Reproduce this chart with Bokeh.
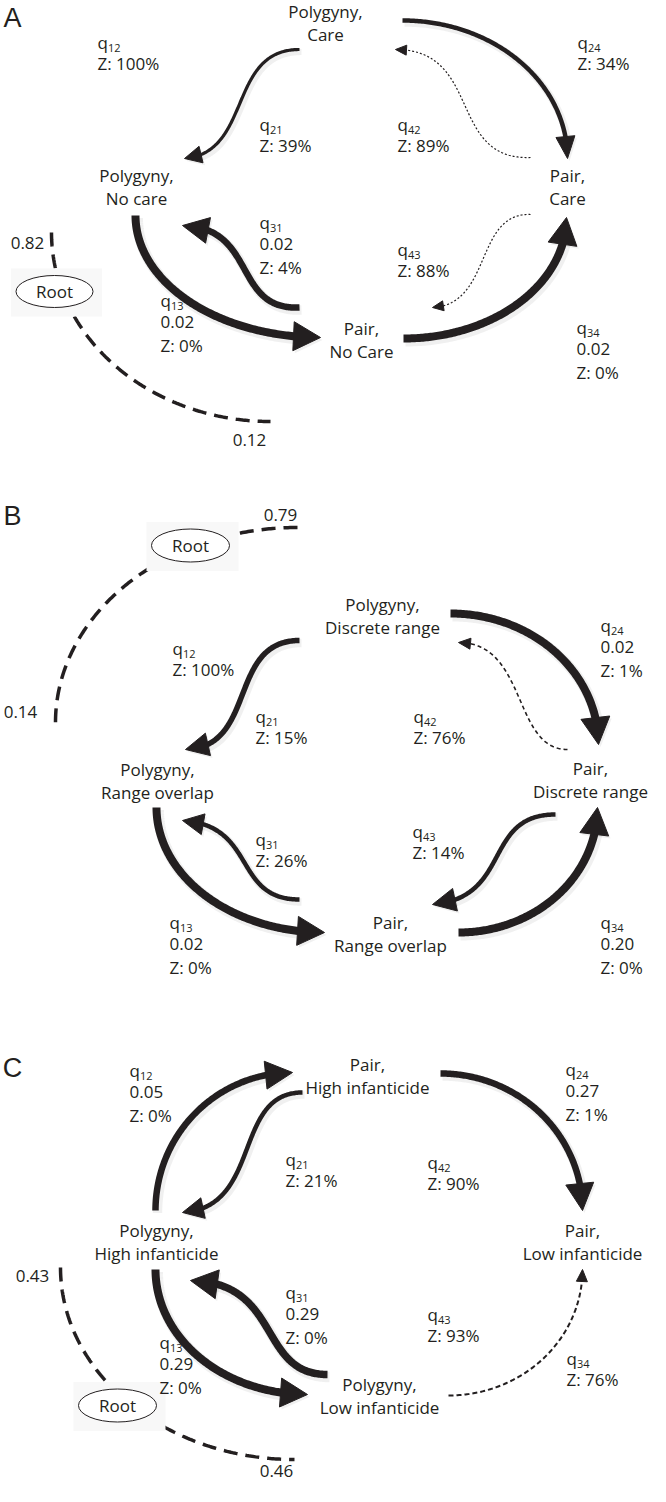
import numpy as np
from bokeh.plotting import figure
from bokeh.models import Range1d
from bokeh.embed import file_html
from bokeh.resources import INLINE
from bokeh.core.properties import value

# ---------------- data ----------------
panel_letters = ["A", "B", "C"]

A_states = [["Polygyny,", "Care"], ["Polygyny,", "No care"], ["Pair,", "Care"], ["Pair,", "No Care"]]
B_states = [["Polygyny,", "Discrete range"], ["Polygyny,", "Range overlap"],
            ["Pair,", "Discrete range"], ["Pair,", "Range overlap"]]
C_states = [["Pair,", "High infanticide"], ["Polygyny,", "High infanticide"],
            ["Pair,", "Low infanticide"], ["Polygyny,", "Low infanticide"]]

A_rate_ids = ["12", "21", "42", "24", "31", "43", "13", "34"]
A_rate_vals = ["", "", "", "", "0.02", "", "0.02", "0.02"]
A_z = ["100%", "39%", "89%", "34%", "4%", "88%", "0%", "0%"]
A_root = ["0.82", "0.12"]

B_rate_ids = ["12", "21", "24", "42", "31", "43", "13", "34"]
B_rate_vals = ["", "", "0.02", "", "", "", "0.02", "0.20"]
B_z = ["100%", "15%", "1%", "76%", "26%", "14%", "0%", "0%"]
B_root = ["0.79", "0.14"]

C_rate_ids = ["12", "21", "24", "42", "31", "43", "13", "34"]
C_rate_vals = ["0.05", "", "0.27", "", "0.29", "", "0.29", ""]
C_z = ["0%", "21%", "1%", "90%", "0%", "93%", "0%", "76%"]
C_root = ["0.43", "0.46"]

# ---------------- layout (pixel-like coordinates) ----------------
INK = "#231f20"
FONT = value("Open Sans")

layout = {
    "A": dict(
        letter=(20, 25),
        nodes=[(333, 19), (144, 183), (575, 183), (369, 336)],
        labels=[(105, 50), (267, 132), (405, 132), (585, 50), (267, 230), (405, 257), (168, 308), (584, 335)],
        arrows=[
            (("bez", (307, 57), (235, 57), (260, 160), (192, 166)), 3.2, 17, 17, None),
            (("arc", 410, 166, 165, 138, -90, 0), 4.5, 22, 19, None),
            (("bez", (538, 165), (455, 168), (490, 57), (403, 57)), 1.2, 11, 10, "2 2"),
            (("bez", (538, 222), (482, 220), (500, 312), (440, 315)), 1.2, 11, 10, "2 2"),
            (("bez", (307, 315), (240, 318), (265, 235), (190, 233)), 6.5, 26, 26, None),
            (("arc", 328, 223, 185, 122, 180, 90), 8, 27, 29, None),
            (("arc", 411, 225, 163, 121, 90, 0), 8, 27, 29, None),
        ],
        root=dict(arc=(278, 240, 219, 189, 180, 90), center=(62, 299), size=(77, 32),
                  tpos=[(35, 250), (257, 447)]),
    ),
    "B": dict(
        letter=(20, 523),
        nodes=[(390, 612), (165, 777), (598, 776), (398, 930)],
        labels=[(180, 656), (263, 724), (608, 633), (421, 724), (263, 847), (420, 839), (177, 930), (608, 930)],
        arrows=[
            (("arc", 458, 752, 148, 131, -90, 0), 8, 27, 29, None),
            (("bez", (575, 757), (520, 757), (535, 650), (466, 650)), 1.6, 12, 11, "4 3"),
            (("bez", (307, 648), (235, 648), (265, 755), (193, 757)), 5.5, 23, 23, None),
            (("bez", (307, 907), (240, 907), (265, 833), (190, 828)), 4.5, 21, 21, None),
            (("arc", 332, 815, 168, 125, 180, 90), 8, 27, 29, None),
            (("bez", (563, 822), (490, 822), (520, 905), (440, 912)), 4.5, 23, 23, None),
            (("arc", 466, 815, 139, 125, 90, 0), 8, 27, 29, None),
        ],
        root=dict(arc=(305, 730, 242, 195, 270, 180), center=(198, 553), size=(78, 33),
                  tpos=[(288, 522), (28, 719)]),
    ),
    "C": dict(
        letter=(20, 1075),
        nodes=[(375, 1072), (164, 1238), (590, 1238), (387, 1392)],
        labels=[(137, 1078), (293, 1167), (573, 1077), (435, 1170), (293, 1300), (435, 1322), (167, 1350), (574, 1366)],
        arrows=[
            (("arc", 300, 1218, 137, 138, 180, 270), 6.5, 27, 28, None),
            (("bez", (310, 1100), (240, 1100), (270, 1215), (190, 1220)), 4.5, 21, 21, None),
            (("arc", 448, 1218, 142, 137, -90, 0), 6.5, 27, 28, None),
            (("bez", (335, 1382), (265, 1382), (290, 1290), (198, 1288)), 7.5, 27, 29, None),
            (("arc", 315, 1277, 152, 125, 180, 90), 8, 27, 29, None),
            (("arc", 456, 1277, 134, 126, 90, 0), 2, 12, 11, "5 3"),
        ],
        root=dict(arc=(302, 1275, 234, 192, 180, 90), center=(125, 1413), size=(78, 33),
                  tpos=[(40, 1283), (284, 1478)]),
    ),
}

panels = {
    "A": (A_states, A_rate_ids, A_rate_vals, A_z, A_root),
    "B": (B_states, B_rate_ids, B_rate_vals, B_z, B_root),
    "C": (C_states, C_rate_ids, C_rate_vals, C_z, C_root),
}

W, H = 650, 1486
p = figure(width=W, height=H, x_range=Range1d(8, 8 + W), y_range=Range1d(8 + H, 8),
           output_backend="svg", toolbar_location=None, min_border=0,
           x_axis_type=None, y_axis_type=None)
p.grid.visible = False
p.outline_line_color = None
p.background_fill_color = "white"
p.border_fill_color = "white"


def curve_pts(g, n=160):
    if g[0] == "arc":
        cx, cy, rx, ry, t0, t1 = g[1:]
        th = np.radians(np.linspace(t0, t1, n))
        return cx + rx * np.cos(th), cy + ry * np.sin(th)
    P0, P1, P2, P3 = [np.array(q, float) for q in g[1:]]
    t = np.linspace(0, 1, n)[:, None]
    B = (1 - t) ** 3 * P0 + 3 * (1 - t) ** 2 * t * P1 + 3 * (1 - t) * t ** 2 * P2 + t ** 3 * P3
    return B[:, 0], B[:, 1]


def draw_arrow(g, lw, hl, hw, dash):
    x, y = curve_pts(g)
    s = np.concatenate([[0], np.cumsum(np.hypot(np.diff(x), np.diff(y)))])
    L = s[-1]
    bx, by = np.interp(L - hl, s, x), np.interp(L - hl, s, y)
    tx, ty = x[-1], y[-1]
    d = np.array([tx - bx, ty - by])
    d /= np.hypot(*d)
    nx, ny = -d[1], d[0]
    bx, by = tx - d[0] * hl, ty - d[1] * hl
    tri_x = [tx, bx + nx * hw / 2, bx - nx * hw / 2]
    tri_y = [ty, by + ny * hw / 2, by - ny * hw / 2]
    se = L - hl * 0.6
    m = s < se
    lx = np.append(x[m], np.interp(se, s, x))
    ly = np.append(y[m], np.interp(se, s, y))
    kw = dict(line_width=lw, line_color=INK, line_join="round")
    if dash:
        kw["line_dash"] = dash
    else:
        p.line(lx + 2, ly + 2.5, line_width=lw + 3, line_color="black", line_alpha=0.06)
        p.patch([v + 2 for v in tri_x], [v + 2.5 for v in tri_y], fill_color="black",
                fill_alpha=0.06, line_color=None)
    p.line(lx, ly, **kw)
    p.patch(tri_x, tri_y, fill_color=INK, line_color=INK, line_width=1)


def add_text(xs, ys, texts, size, align="left", font=FONT):
    p.text(x=xs, y=ys, text=texts, text_font=font, text_font_size=size,
           text_align=align, text_baseline="middle", text_color=INK)


for key in panel_letters:
    states, rids, rvals, zs, roots = panels[key]
    lay = layout[key]

    # root dashed arc, then root ellipse
    r = lay["root"]
    ax, ay = curve_pts(("arc",) + r["arc"], n=200)
    p.line(ax, ay, line_width=3.5, line_color=INK, line_dash="14 8")
    cx, cy = r["center"]
    rw, rh = r["size"]
    p.rect(x=[cx + 2], y=[cy + 1], width=rw + 14, height=rh + 16, fill_color="#f8f8f8",
           line_color=None)
    p.ellipse(x=[cx], y=[cy], width=rw, height=rh, fill_color="white", line_color=INK,
              line_width=1)
    add_text([cx], [cy], ["Root"], "17px", "center")
    add_text([r["tpos"][0][0]], [r["tpos"][0][1]], [roots[0]], "17px", "center")
    add_text([r["tpos"][1][0]], [r["tpos"][1][1]], [roots[1]], "17px", "center")

    # arrows
    for g, lw, hl, hw, dash in lay["arrows"]:
        draw_arrow(g, lw, hl, hw, dash)

    # panel letter
    lx, ly = lay["letter"]
    add_text([lx], [ly], [key], "27px", "center", value("Liberation Sans"))

    # state nodes
    nx_, ny1, ny2, t1, t2 = [], [], [], [], []
    for (sx, sy), st in zip(lay["nodes"], states):
        nx_.append(sx); ny1.append(sy); ny2.append(sy + 23)
        t1.append(st[0]); t2.append(st[1])
    add_text(nx_, ny1, t1, "17px", "center")
    add_text(nx_, ny2, t2, "17px", "center")

    # rate labels
    qx, qy, subx, suby, subt, vx, vy, vt, zx, zy, zt = ([] for _ in range(11))
    for (lx0, ly0), rid, rv, z in zip(lay["labels"], rids, rvals, zs):
        qx.append(lx0); qy.append(ly0)
        subx.append(lx0 + 10.5); suby.append(ly0 + 5); subt.append(rid)
        if rv:
            vx.append(lx0); vy.append(ly0 + 21); vt.append(rv)
            zx.append(lx0); zy.append(ly0 + 45)
        else:
            zx.append(lx0); zy.append(ly0 + 21)
        zt.append("Z: " + z)
    add_text(qx, qy, ["q"] * len(qx), "17px")
    add_text(subx, suby, subt, "11px")
    if vt:
        add_text(vx, vy, vt, "17px")
    add_text(zx, zy, zt, "17px")

open("out.html", "w").write(file_html(p, INLINE))
